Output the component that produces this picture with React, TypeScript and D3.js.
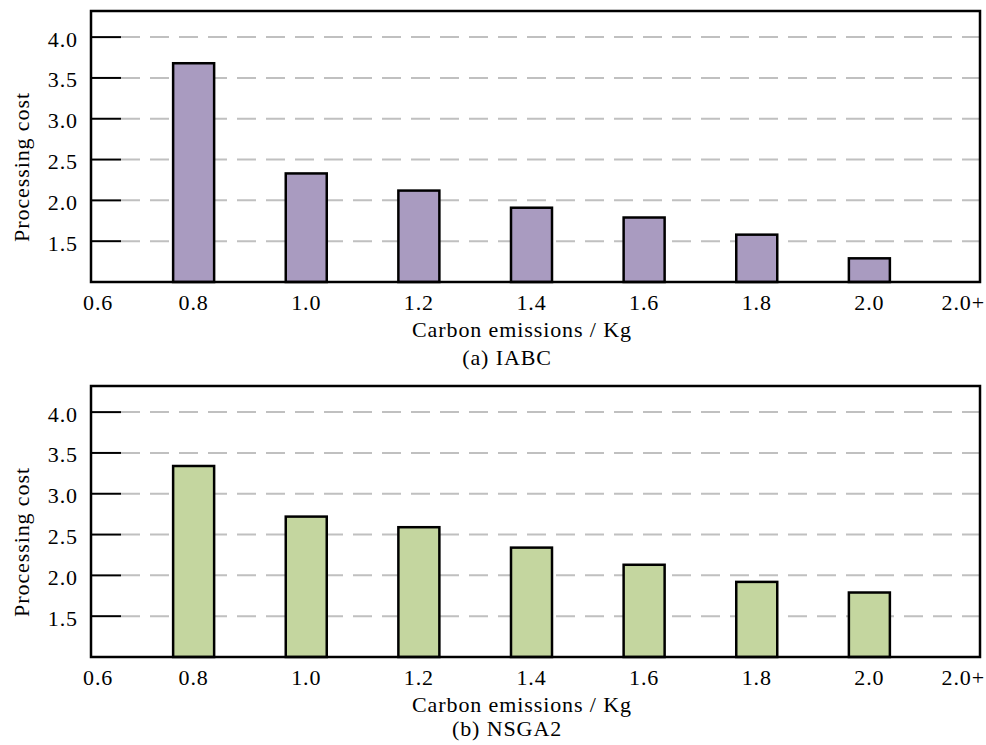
import React, { useEffect, useRef } from "react"
import * as d3 from "d3"

// carbon emission classes (bars) and the axis labels around them
const xLabels = ["0.6", "0.8", "1.0", "1.2", "1.4", "1.6", "1.8", "2.0", "2.0+"]
const barCategories = ["0.8", "1.0", "1.2", "1.4", "1.6", "1.8", "2.0"]
const iabcCost = [3.68, 2.33, 2.12, 1.91, 1.79, 1.58, 1.29]
const nsga2Cost = [3.34, 2.72, 2.59, 2.34, 2.13, 1.92, 1.79]
const yTicks = [1.5, 2.0, 2.5, 3.0, 3.5, 4.0]

const panels = [
    { caption: "(a) IABC", values: iabcCost, color: "#a99bc0", top: 11, captionDy: 83 },
    { caption: "(b) NSGA2", values: nsga2Cost, color: "#c4d69f", top: 386, captionDy: 79 },
]

const FONT = "'Liberation Serif', 'Times New Roman', serif"

export default function App() {
    const ref = useRef<SVGSVGElement>(null)

    useEffect(() => {
        const svg = d3.select(ref.current)
        svg.selectAll("*").remove()

        const left = 91
        const right = 980
        const plotH = 271

        // label index -> x (bars sit at indices 1..7)
        const x = d3.scaleLinear().domain([0, xLabels.length - 1]).range([81, 982])
        const barW = 41

        panels.forEach(p => {
            const g = svg.append("g").attr("transform", `translate(0,${p.top})`)
            const y = d3.scaleLinear().domain([1, 4.32]).range([plotH, 0])

            // grid: black stub + grey dashes
            const grid = g.append("g")
            grid.selectAll("line.stub")
                .data(yTicks)
                .enter()
                .append("line")
                .attr("class", "stub")
                .attr("x1", left)
                .attr("x2", left + 30)
                .attr("y1", d => y(d))
                .attr("y2", d => y(d))
                .attr("stroke", "#000")
                .attr("stroke-width", 2)
            grid.selectAll("line.dash")
                .data(yTicks)
                .enter()
                .append("line")
                .attr("class", "dash")
                .attr("x1", left + 30)
                .attr("x2", right)
                .attr("y1", d => y(d))
                .attr("y2", d => y(d))
                .attr("stroke", "#c0c0c0")
                .attr("stroke-width", 2)
                .attr("stroke-dasharray", "19,10")

            g.selectAll("text.ytick")
                .data(yTicks)
                .enter()
                .append("text")
                .attr("class", "ytick")
                .attr("x", 78)
                .attr("y", d => y(d) + 9.5)
                .attr("text-anchor", "end")
                .text(d => d.toFixed(1))

            // bars
            g.selectAll("rect.bar")
                .data(p.values)
                .enter()
                .append("rect")
                .attr("class", "bar")
                .attr("x", (d, i) => x(xLabels.indexOf(barCategories[i])) - barW / 2)
                .attr("width", barW)
                .attr("y", d => y(d))
                .attr("height", d => y(1) - y(d))
                .attr("fill", p.color)
                .attr("stroke", "#000")
                .attr("stroke-width", 2.5)

            // frame
            g.append("rect")
                .attr("x", left)
                .attr("y", 0)
                .attr("width", right - left)
                .attr("height", plotH)
                .attr("fill", "none")
                .attr("stroke", "#000")
                .attr("stroke-width", 2.5)

            const last = xLabels.length - 1
            g.selectAll("text.xtick")
                .data(xLabels)
                .enter()
                .append("text")
                .attr("class", "xtick")
                .attr("x", (d, i) => x(i) + (i == 0 ? 2 : i == last ? 3 : 0))
                .attr("y", plotH + 28)
                .attr("text-anchor", (d, i) => i == 0 ? "start" : i == last ? "end" : "middle")
                .text(d => d)

            g.append("text")
                .attr("x", 522)
                .attr("y", plotH + 55)
                .attr("text-anchor", "middle")
                .text("Carbon emissions / Kg")

            g.append("text")
                .attr("x", 507)
                .attr("y", plotH + p.captionDy)
                .attr("text-anchor", "middle")
                .text(p.caption)

            g.append("text")
                .attr("transform", `translate(29,156) rotate(-90)`)
                .attr("text-anchor", "middle")
                .text("Processing cost")
        })

        svg.selectAll("text")
            .attr("font-family", FONT)
            .attr("font-size", 22)
            .attr("letter-spacing", "0.9px")
            .attr("fill", "#000")
    }, [])

    return (
        <svg
            ref={ref}
            width={986}
            height={745}
            style={{ position: "absolute", left: 0, top: 0, background: "#fff" }}
        />
    )
}
